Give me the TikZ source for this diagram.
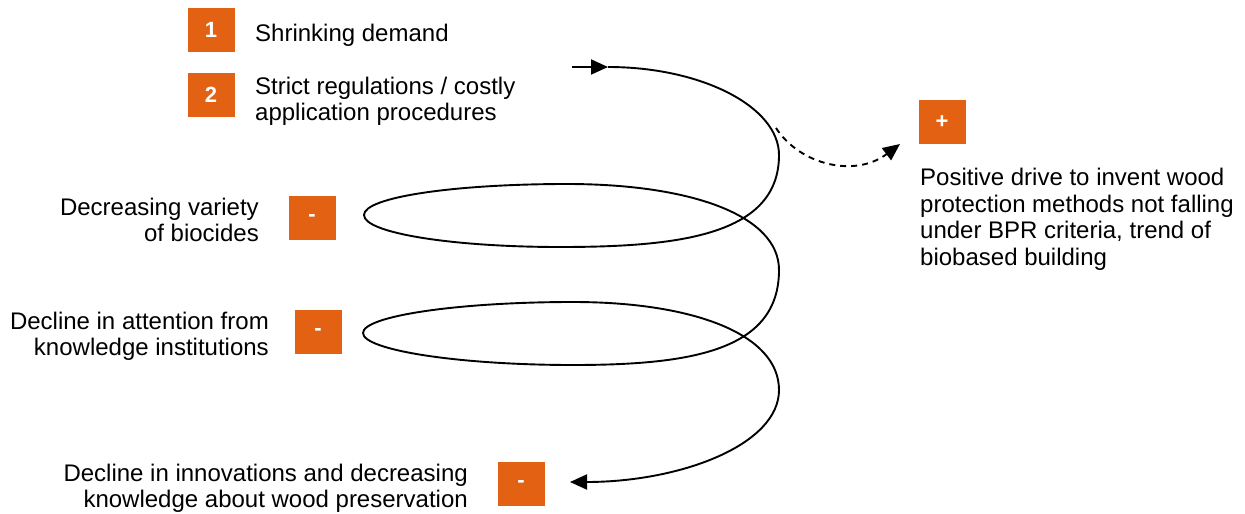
\documentclass[tikz,border=0pt]{standalone}
\usepackage{fontspec}
\setmainfont{Liberation Sans}
\usetikzlibrary{arrows.meta}
\definecolor{boxorange}{RGB}{227,97,19}

\begin{document}
\begin{tikzpicture}[x=1pt,y=-1pt,
    tag/.style={fill=boxorange,minimum width=47pt,minimum height=44pt,inner sep=0pt,text=white,font=\fontsize{22}{24}\selectfont\bfseries},
    txt/.style={inner sep=0pt,font=\fontsize{24}{26.5}\selectfont},
    curve/.style={line width=1.9pt},
    tip/.style={-{Triangle[length=17pt,width=15pt]}}]
    \useasboundingbox (0,0) rectangle (1245,514);
    %% Boxes
    \node[tag] (n1) at (211,30) {1};
    \node[tag] (n2) at (211,95) {2};
    \node[tag] (m1) at (312,218) {-};
    \node[tag] (m2) at (318,332) {-};
    \node[tag] (m3) at (521,484) {-};
    \node[tag] (p1) at (942,122) {+};
    %% Labels (base = last line)
    \node[txt,anchor=base west] (t1) at (255,41) {Shrinking demand};
    \node[txt,anchor=base west,align=left] (t2) at (255,120.5) {Strict regulations / costly\\application procedures};
    \node[txt,anchor=base east,align=right] (t3) at (259,241.5) {Decreasing variety\\of biocides};
    \node[txt,anchor=base east,align=right] (t4) at (269,355.5) {Decline in attention from\\knowledge institutions};
    \node[txt,anchor=base east,align=right] (t5) at (468,507.5) {Decline in innovations and decreasing\\knowledge about wood preservation};
    \node[txt,anchor=base west,align=left] (t6) at (920,265) {Positive drive to invent wood\\protection methods not falling\\under BPR criteria, trend of\\biobased building};
    %% Spiral
    \coordinate (in) at (572,67);
    \coordinate (top) at (608,67);
    \coordinate (out) at (570,482);
    \draw[curve,tip] (in) -- (top);
    \draw[curve,tip] (top) .. controls (702,67) and (779,107) .. (779,155)
        .. controls (779,235) and (680,247) .. (560,247)
        .. controls (452,247) and (364,233) .. (364,215)
        .. controls (364,197) and (455,184) .. (567,184)
        .. controls (690,184) and (779,215) .. (779,270)
        .. controls (779,350) and (693,365) .. (573,365)
        .. controls (458,365) and (363,350) .. (363,333)
        .. controls (363,316) and (458,302) .. (573,302)
        .. controls (693,302) and (779,334) .. (779,390)
        .. controls (779,445) and (680,482) .. (out);
    %% Dashed arrow
    \coordinate (d0) at (776,128);
    \coordinate (d1) at (900,144);
    \draw[curve,tip,dash pattern=on 6pt off 5pt] (d0) .. controls (800,165) and (855,178) .. (d1);
\end{tikzpicture}
\end{document}
